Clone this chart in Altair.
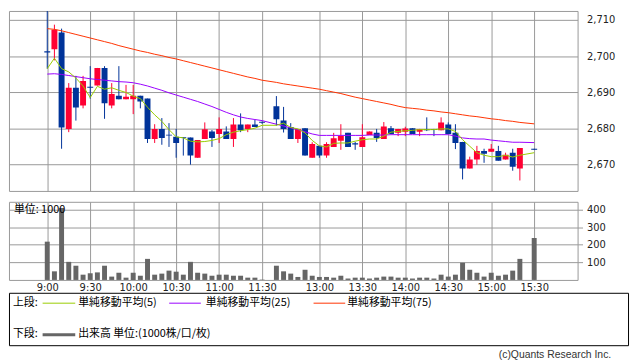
import altair as alt
import pandas as pd

# ---------------- data ----------------
morning = [f"{h}:{m:02d}" for h in (9, 10, 11) for m in range(0, 60, 5)][:31]
afternoon = [f"{h}:{m:02d}" for h in (12, 13, 14, 15) for m in range(0, 60, 5)]
afternoon = [t for t in afternoon if "12:30" <= t.zfill(5) <= "15:20"] + ["15:30"]
times = morning + afternoon

opens = [2701.3, 2701.9, 2706.5, 2679.8, 2691.2, 2686.3, 2691.5, 2691.8, 2696.7, 2686.3,
         2689.0, 2688.0, 2688.0, 2689.0, 2688.2, 2677.0, 2679.8, 2678.2, 2677.6, 2677.5,
         2677.4, 2671.8, 2677.0, 2679.1, 2678.4, 2679.1, 2677.0, 2681.0, 2679.8, 2681.0, 2681.8,
         2686.1, 2682.1, 2680.3, 2677.0, 2680.0, 2671.8, 2675.1, 2672.4, 2674.8, 2676.5,
         2678.7, 2675.8, 2674.8, 2678.1, 2678.7, 2677.0, 2680.0, 2678.7, 2679.0, 2680.0,
         2679.0, 2679.8, 2679.8, 2679.4, 2681.0, 2678.7, 2676.2, 2668.8, 2671.3, 2673.7,
         2673.5, 2673.7, 2671.3, 2673.2, 2668.8, 2674.3]
highs = [2713.1, 2708.7, 2707.6, 2692.5, 2694.5, 2694.5, 2697.2, 2696.7, 2697.2, 2692.5,
         2697.2, 2692.0, 2692.0, 2689.0, 2688.2, 2681.1, 2682.8, 2681.4, 2679.8, 2677.5,
         2677.4, 2676.7, 2681.6, 2679.5, 2683.0, 2680.5, 2682.8, 2684.1, 2681.0, 2682.3, 2681.8,
         2688.9, 2685.9, 2681.4, 2679.8, 2680.0, 2676.1, 2675.1, 2676.1, 2678.7, 2681.1,
         2678.7, 2676.2, 2681.1, 2679.1, 2679.8, 2681.7, 2680.6, 2679.8, 2680.4, 2680.0,
         2679.8, 2683.0, 2679.8, 2683.0, 2681.6, 2681.1, 2676.2, 2672.1, 2675.1, 2674.3,
         2675.6, 2675.1, 2673.2, 2674.3, 2674.5, 2674.3]
lows = [2696.5, 2698.8, 2674.3, 2678.9, 2682.1, 2685.5, 2688.2, 2691.8, 2682.6, 2685.5,
        2688.0, 2688.0, 2683.9, 2685.5, 2675.9, 2675.9, 2675.4, 2674.8, 2671.8, 2672.4,
        2669.9, 2671.8, 2677.0, 2674.8, 2675.9, 2677.0, 2674.8, 2678.9, 2678.9, 2680.3, 2681.2,
        2680.7, 2678.8, 2677.0, 2675.9, 2672.4, 2671.8, 2671.8, 2671.8, 2674.8, 2674.0,
        2674.8, 2674.0, 2674.8, 2678.1, 2676.2, 2677.0, 2678.4, 2677.8, 2677.8, 2678.4,
        2677.8, 2679.2, 2677.8, 2679.4, 2678.4, 2674.2, 2665.8, 2668.8, 2669.9, 2670.4,
        2673.5, 2671.0, 2671.3, 2668.2, 2665.5, 2674.0]
closes = [2701.0, 2707.3, 2680.2, 2691.2, 2685.7, 2693.1, 2691.2, 2696.7, 2686.9, 2689.5,
          2688.0, 2688.7, 2689.0, 2687.4, 2677.0, 2679.8, 2677.3, 2678.0, 2675.9, 2677.3,
          2672.4, 2676.7, 2679.7, 2677.3, 2679.8, 2677.0, 2681.0, 2679.4, 2681.0, 2680.3, 2681.5,
          2682.5, 2679.8, 2677.0, 2679.8, 2672.4, 2675.6, 2672.4, 2675.6, 2677.2, 2677.8,
          2674.8, 2675.5, 2677.5, 2679.1, 2677.3, 2680.5, 2678.4, 2679.8, 2679.9, 2678.4,
          2679.8, 2679.4, 2679.5, 2681.6, 2678.4, 2675.9, 2668.8, 2671.3, 2673.7, 2672.9,
          2674.3, 2671.0, 2672.6, 2669.3, 2674.5, 2674.0]
volumes = [218, 49, 410, 103, 81, 30, 38, 43, 81, 19, 41, 13, 41, 24, 120, 30, 36, 53, 47, 30,
           103, 41, 36, 24, 30, 30, 24, 24, 13, 13, 2,
           81, 49, 36, 17, 58, 24, 17, 17, 13, 24, 8, 13, 13, 8, 13, 19, 19, 13, 13, 8,
           13, 13, 8, 30, 19, 30, 98, 58, 41, 19, 41, 24, 30, 53, 120, 239]
ma5 = [2696.5, 2699.4, 2696.5, 2695.6, 2693.9, 2691.7, 2688.5, 2691.6, 2690.8, 2691.2,
       2690.5, 2689.9, 2688.9, 2688.2, 2685.8, 2683.7, 2681.9, 2679.6, 2677.6, 2677.3,
       2676.4, 2676.2, 2676.3, 2676.6, 2677.1, 2678.2, 2678.9, 2679.3, 2679.6, 2680.0, 2680.8,
       2680.8, 2681.4, 2680.2, 2679.8, 2678.7, 2676.6, 2675.1, 2674.8, 2675.8, 2675.9,
       2675.9, 2676.4, 2676.8, 2677.0, 2677.0, 2677.8, 2678.9, 2679.1, 2679.3, 2679.4,
       2679.6, 2679.6, 2679.6, 2679.8, 2679.8, 2679.1, 2676.8, 2675.0, 2673.2, 2672.5,
       2672.1, 2672.1, 2672.5, 2672.0, 2672.5, 2673.2]
ma25 = [2695.0, 2695.1, 2694.9, 2694.6, 2694.3, 2694.0, 2693.7, 2693.5, 2693.3, 2693.1,
        2692.9, 2692.8, 2692.6, 2692.2, 2691.7, 2691.1, 2690.5, 2689.8, 2689.2, 2688.6,
        2688.0, 2687.4, 2686.7, 2686.0, 2685.2, 2684.4, 2683.7, 2683.1, 2682.7, 2682.4, 2682.1,
        2681.1, 2680.6, 2680.1, 2679.6, 2679.0, 2678.4, 2678.0, 2678.0, 2678.0, 2678.0,
        2678.0, 2678.0, 2678.0, 2678.1, 2678.1, 2678.1, 2678.2, 2678.2, 2678.2, 2678.2,
        2678.2, 2678.2, 2678.2, 2678.2, 2678.2, 2677.8, 2677.3, 2677.1, 2677.0, 2677.0,
        2676.7, 2676.5, 2676.3, 2676.1, 2676.1, 2676.0]
ma75 = [2707.6, 2707.4, 2707.0, 2706.5, 2706.0, 2705.5, 2705.0, 2704.5, 2704.0, 2703.5,
        2702.9, 2702.4, 2701.9, 2701.4, 2701.0, 2700.5, 2700.1, 2699.6, 2699.2, 2698.7,
        2698.2, 2697.7, 2697.2, 2696.7, 2696.2, 2695.7, 2695.2, 2694.7, 2694.2, 2693.8, 2693.3,
        2692.7, 2692.3, 2692.0, 2691.7, 2691.4, 2691.1, 2690.8, 2690.4, 2690.0, 2689.6,
        2689.1, 2688.6, 2688.2, 2687.8, 2687.4, 2687.0, 2686.6, 2686.1, 2685.7, 2685.5,
        2685.3, 2685.0, 2684.8, 2684.5, 2684.3, 2684.0, 2683.7, 2683.4, 2683.2, 2682.9,
        2682.6, 2682.4, 2682.1, 2681.9, 2681.6, 2681.2]

tick_labels = ["9:00", "9:30", "10:00", "10:30", "11:00", "11:30",
               "13:00", "13:30", "14:00", "14:30", "15:00", "15:30"]
price_ticks = [2670, 2680, 2690, 2700, 2710]
volume_ticks = [100, 200, 300, 400]
ma_names = ["単純移動平均(5)", "単純移動平均(25)", "単純移動平均(75)"]
volume_name = "出来高 単位:(1000株/口/枚)"
unit_text = "単位: 1000"
copyright_text = "(c)Quants Research Inc."


def slot_of(t):
    h, m = map(int, t.split(":"))
    mins = h * 60 + m
    # one empty slot marks the lunch break
    return (mins - 540) // 5 if mins <= 690 else (mins - 750) // 5 + 32


df = pd.DataFrame({"time": times, "open": opens, "high": highs, "low": lows,
                   "close": closes, "volume": volumes,
                   "ma5": ma5, "ma25": ma25, "ma75": ma75})
df["slot"] = [slot_of(t) for t in times]

# ---------------- style ----------------
GRID = "#999999"
RED = "#ff0033"
BLUE = "#003399"
MA_COLORS = ["#99cc00", "#9900ff", "#ff3300"]
VOL_COLOR = "#666666"
LATIN = "DejaVu Sans"
CJK = "Noto Sans CJK JP"

tick_slots = [slot_of(t) for t in tick_labels]
label_expr = ("[" + ",".join(f"'{t}'" for t in tick_labels) + "][indexof(["
              + ",".join(str(s) for s in tick_slots) + "], datum.value)]")

xs = alt.Scale(domain=[-4.654, 73.37], nice=False, zero=False)
x_price = alt.X("slot:Q", scale=xs, title=None,
                axis=alt.Axis(values=tick_slots, labels=False, ticks=False, domain=False,
                              grid=True, gridColor=GRID, gridOpacity=1, title=None))
ys = alt.Scale(domain=[2662.6, 2712.5], nice=False, zero=False)
y_axis = alt.Axis(orient="right", values=price_ticks, format=",.0f", ticks=False, domain=False,
                  grid=True, gridColor=GRID, gridOpacity=1, labelPadding=9, labelFontSize=10,
                  labelFont=LATIN, labelColor="#222222", title=None)

base = alt.Chart(df)
UP = "datum.close >= datum.open"
DOWN = "datum.close < datum.open"
layers = []
for cond, col in ((UP, RED), (DOWN, BLUE)):
    layers.append(base.transform_filter(cond).mark_rule(color=col, strokeWidth=1, clip=True).encode(
        x=x_price, y=alt.Y("low:Q", scale=ys, axis=y_axis, title=None), y2="high:Q"))
    layers.append(base.transform_filter(cond).mark_bar(color=col, size=6, clip=True).encode(
        x=x_price, y=alt.Y("open:Q", scale=ys, axis=y_axis, title=None), y2="close:Q"))
for field, col in zip(["ma75", "ma25", "ma5"], MA_COLORS[::-1]):
    layers.append(base.mark_line(color=col, strokeWidth=1, clip=True).encode(
        x=x_price, y=alt.Y(f"{field}:Q", scale=ys, axis=y_axis, title=None)))

price = alt.layer(*layers).properties(width=575, height=182)

x_vol = alt.X("slot:Q", scale=xs, title=None,
              axis=alt.Axis(values=tick_slots, labelExpr=label_expr, ticks=False, domain=False,
                            grid=True, gridColor=GRID, gridOpacity=1, labelPadding=3,
                            labelFontSize=10, labelFont=LATIN, labelColor="#222222",
                            labelOverlap=False, labelFlush=False, title=None))
y_vol = alt.Y("volume:Q", scale=alt.Scale(domain=[0, 445], nice=False), title=None,
              axis=alt.Axis(orient="right", values=volume_ticks, ticks=True, tickSize=5,
                            tickColor=GRID, domain=False, grid=True, gridColor=GRID,
                            gridOpacity=1, labelPadding=4, labelFontSize=10, labelFont=LATIN,
                            labelColor="#222222", title=None))
vol_bars = alt.Chart(df).mark_bar(color=VOL_COLOR, size=5).encode(x=x_vol, y=y_vol)
unit = alt.Chart(pd.DataFrame({"t": [unit_text]})).mark_text(
    align="left", baseline="middle", font=CJK, fontSize=11, color="#000000").encode(
    x=alt.value(5), y=alt.value(8), text="t:N")
volume = alt.layer(vol_bars, unit).properties(width=575, height=79)

# ---------------- legend box ----------------
one = pd.DataFrame({"k": [0]})
leg = []
leg.append(alt.Chart().mark_rect(fillOpacity=0, stroke="#000000", strokeWidth=1).encode(
    x=alt.value(0.5), x2=alt.value(626.5), y=alt.value(2.5), y2=alt.value(55.5)))


def txt(s, x, y, size=11, align="left", color="#000000", font=CJK):
    return alt.Chart().mark_text(align=align, baseline="middle", font=font, fontSize=size,
                                 color=color).encode(
        x=alt.value(x), y=alt.value(y), text=alt.value(s))


def seg(x1, x2, y, col, w=1):
    return alt.Chart().mark_rule(color=col, strokeWidth=w).encode(
        x=alt.value(x1), x2=alt.value(x2), y=alt.value(y))


leg.append(txt("上段:", 4, 12))
for (lx1, lx2, tx), name, col in zip([(34, 67, 70), (162, 194, 199), (308, 340, 342)],
                                     ma_names, MA_COLORS):
    leg.append(seg(lx1, lx2, 12.5, col))
    leg.append(txt(name, tx, 12))
leg.append(txt("下段:", 4, 44))
leg.append(seg(34, 67, 44.5, VOL_COLOR, 3))
leg.append(txt(volume_name, 70, 44))
leg.append(txt(copyright_text, 609, 65, size=10.5, align="right", color="#333333",
               font="Liberation Sans"))
legend = alt.layer(*leg, data=one).properties(
    width=627, height=56, view=alt.ViewBackground(stroke="transparent"))

chart = alt.vconcat(price, volume, legend, spacing=11, bounds="flush").properties(
    padding=0, background="white").configure_view(stroke=GRID, strokeWidth=1)

chart.save("out.html", embed_options={"renderer": "svg", "actions": False})
